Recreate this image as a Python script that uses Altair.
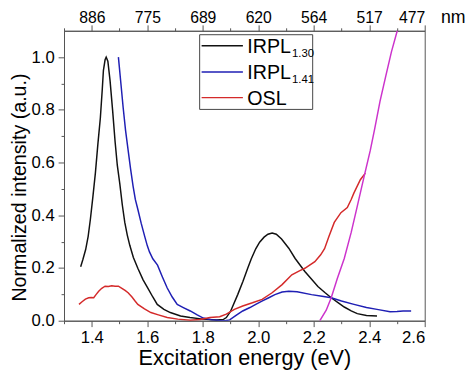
import altair as alt
import pandas as pd

# ---------------- data ----------------
series_names = ["IRPL1.30", "IRPL1.41", "OSL", "source"]
series_colors = ["#111111", "#1f1fb4", "#d42a2a", "#cc33cc"]

e_black = [1.360, 1.368, 1.378, 1.387, 1.395, 1.404, 1.413, 1.422, 1.431, 1.438, 1.442, 1.448,
           1.452, 1.458, 1.466, 1.475, 1.484, 1.492, 1.501, 1.510, 1.519, 1.528, 1.537, 1.550,
           1.566, 1.585, 1.602, 1.620, 1.636, 1.660, 1.683, 1.720, 1.754, 1.800, 1.850, 1.875,
           1.885, 1.900, 1.926, 1.945, 1.962, 1.975, 1.991, 2.005, 2.021, 2.035, 2.050, 2.065,
           2.084, 2.110, 2.133, 2.168, 2.190, 2.215, 2.240, 2.263, 2.290, 2.310, 2.335, 2.357,
           2.390, 2.428]
i_black = [0.205, 0.232, 0.270, 0.320, 0.385, 0.470, 0.560, 0.670, 0.770, 0.880, 0.950, 0.990,
           1.000, 0.985, 0.910, 0.800, 0.680, 0.590, 0.520, 0.440, 0.373, 0.325, 0.286, 0.240,
           0.199, 0.155, 0.124, 0.090, 0.062, 0.043, 0.031, 0.018, 0.012, 0.006, 0.003, 0.005,
           0.012, 0.035, 0.099, 0.150, 0.199, 0.235, 0.273, 0.298, 0.317, 0.328, 0.333, 0.328,
           0.310, 0.275, 0.236, 0.187, 0.160, 0.130, 0.107, 0.087, 0.067, 0.052, 0.037, 0.027,
           0.020, 0.018]

e_blue = [1.496, 1.505, 1.513, 1.522, 1.531, 1.540, 1.549, 1.557, 1.566, 1.578, 1.590, 1.600,
          1.608, 1.620, 1.637, 1.655, 1.672, 1.690, 1.708, 1.730, 1.755, 1.780, 1.802, 1.830,
          1.860, 1.880, 1.897, 1.920, 1.944, 1.970, 1.991, 2.015, 2.038, 2.060, 2.086, 2.110,
          2.140, 2.192, 2.230, 2.263, 2.300, 2.345, 2.390, 2.428, 2.475, 2.500, 2.522, 2.551]
i_blue = [1.000, 0.900, 0.810, 0.720, 0.647, 0.575, 0.510, 0.460, 0.423, 0.370, 0.323, 0.285,
          0.261, 0.235, 0.211, 0.165, 0.124, 0.090, 0.062, 0.050, 0.037, 0.022, 0.010, 0.004,
          0.001, 0.000, 0.003, 0.020, 0.037, 0.050, 0.062, 0.075, 0.087, 0.099, 0.109, 0.112,
          0.110, 0.099, 0.093, 0.087, 0.075, 0.062, 0.050, 0.043, 0.034, 0.035, 0.037, 0.037]

e_red = [1.354, 1.365, 1.377, 1.389, 1.398, 1.407, 1.416, 1.425, 1.436, 1.448, 1.460, 1.472,
         1.484, 1.496, 1.510, 1.520, 1.531, 1.545, 1.556, 1.566, 1.590, 1.613, 1.640, 1.672,
         1.710, 1.755, 1.790, 1.826, 1.861, 1.885, 1.914, 1.944, 1.979, 2.014, 2.050, 2.086,
         2.121, 2.150, 2.168, 2.204, 2.225, 2.239, 2.255, 2.274, 2.298, 2.321, 2.335, 2.345,
         2.368, 2.386]
i_red = [0.062, 0.072, 0.082, 0.087, 0.088, 0.087, 0.100, 0.112, 0.123, 0.131, 0.130, 0.133,
         0.131, 0.131, 0.122, 0.115, 0.106, 0.090, 0.075, 0.062, 0.045, 0.031, 0.022, 0.012,
         0.006, 0.002, 0.005, 0.012, 0.015, 0.025, 0.043, 0.056, 0.068, 0.081, 0.106, 0.137,
         0.174, 0.190, 0.199, 0.224, 0.250, 0.273, 0.320, 0.373, 0.410, 0.429, 0.460, 0.485,
         0.535, 0.560]

e_mag = [2.222, 2.245, 2.263, 2.285, 2.310, 2.335, 2.357, 2.380, 2.404, 2.420, 2.439, 2.460,
         2.480, 2.501, 2.512]
i_mag = [0.000, 0.040, 0.087, 0.160, 0.236, 0.335, 0.435, 0.540, 0.647, 0.730, 0.833, 0.930,
         1.020, 1.100, 1.150]

x_tick_values = [1.3, 1.4, 1.5, 1.6, 1.7, 1.8, 1.9, 2.0, 2.1, 2.2, 2.3, 2.4, 2.5, 2.6]
x_tick_labels = ["", "1.4", "", "1.6", "", "1.8", "", "2.0", "", "2.2", "", "2.4", "", "2.6"]
nm_tick_labels = ["", "886", "", "775", "", "689", "", "620", "", "564", "", "517", "", "477"]
y_tick_values = [0.0, 0.1, 0.2, 0.3, 0.4, 0.5, 0.6, 0.7, 0.8, 0.9, 1.0]
y_tick_labels = ["0.0", "", "0.2", "", "0.4", "", "0.6", "", "0.8", "", "1.0"]

legend_main = ["IRPL", "IRPL", "OSL"]
legend_sub = ["1.30", "1.41", ""]

# ---------------- build table ----------------
rows = []
for name, xs, ys in zip(series_names, [e_black, e_blue, e_red, e_mag],
                        [i_black, i_blue, i_red, i_mag]):
    for x, y in zip(xs, ys):
        rows.append({"series": name, "energy": x, "intensity": y})
df = pd.DataFrame(rows)

FONT = "Liberation Sans"
AX = "#555555"


def arr_expr(labels, offset_expr):
    return "[" + ",".join("'%s'" % s for s in labels) + "][" + offset_expr + "]"


major_tick = {"condition": {"test": "round(datum.value*10)%2==0", "value": 6}, "value": 3}

x_scale = alt.Scale(domain=[1.3, 2.6], nice=False, zero=False)
y_scale = alt.Scale(domain=[0, 1.1], nice=False)

lines = alt.Chart(df).mark_line(strokeWidth=1.5, clip=True).encode(
    x=alt.X("energy:Q", scale=x_scale,
            axis=alt.Axis(orient="bottom", values=x_tick_values,
                          labelExpr=arr_expr(x_tick_labels, "round(datum.value*10)-13"),
                          tickSize=major_tick, labelBaseline="alphabetic", labelPadding=16,
                          labelFontSize=17, title="Excitation energy (eV)", titleFontSize=22,
                          titleFontWeight="normal", titleBaseline="alphabetic",
                          titleY=45, titleX=183.5, titleAlign="center")),
    y=alt.Y("intensity:Q", scale=y_scale,
            axis=alt.Axis(values=y_tick_values,
                          labelExpr=arr_expr(y_tick_labels, "round(datum.value*10)"),
                          tickSize=major_tick, labelBaseline="middle", labelPadding=4,
                          labelFontSize=17, title="Normalized intensity (a.u.)",
                          titleFontSize=20, titleFontWeight="normal", titleAngle=-90,
                          titleBaseline="alphabetic", titleAlign="center",
                          titleX=-39, titleY=159)),
    color=alt.Color("series:N", scale=alt.Scale(domain=series_names, range=series_colors),
                    legend=None),
)

top_axis = alt.Chart(df).mark_point(opacity=0).encode(
    x=alt.X("energy:Q", scale=x_scale,
            axis=alt.Axis(orient="top", values=x_tick_values,
                          labelExpr=arr_expr(nm_tick_labels, "round(datum.value*10)-13"),
                          tickSize=major_tick, labelBaseline="alphabetic", labelPadding=2,
                          labelFontSize=16, title="nm", titleFontSize=18,
                          titleFontWeight="normal", titleBaseline="alphabetic",
                          titleAlign="left", titleX=383, titleY=-8)),
)

# legend box (manual, to allow subscripts)
leg_df = pd.DataFrame({"k": [0]})
box = alt.Chart(leg_df).mark_rect(fill="white", stroke="#444444", strokeWidth=1).encode(
    x=alt.value(138), x2=alt.value(253), y=alt.value(4), y2=alt.value(80))
legend_layers = [box]
line_ys = [15.3, 42, 68]
for i in range(3):
    legend_layers.append(
        alt.Chart(leg_df).mark_rule(strokeWidth=1.5, color=series_colors[i]).encode(
            x=alt.value(140), x2=alt.value(182), y=alt.value(line_ys[i])))
    legend_layers.append(
        alt.Chart(pd.DataFrame({"t": [legend_main[i]]})).mark_text(
            font=FONT, fontSize=20, align="left", baseline="alphabetic", color="black").encode(
            x=alt.value(186.5), y=alt.value(line_ys[i] + 7.3), text="t:N"))
    if legend_sub[i]:
        legend_layers.append(
            alt.Chart(pd.DataFrame({"t": [legend_sub[i]]})).mark_text(
                font=FONT, fontSize=11.5, align="left", baseline="alphabetic",
                color="black").encode(
                x=alt.value(232), y=alt.value(line_ys[i] + 11.5), text="t:N"))

chart = alt.layer(lines, top_axis, *legend_layers).resolve_axis(x="independent").properties(
    width=367, height=295,
    autosize=alt.AutoSizeParams(type="none"),
    padding={"left": 57, "top": 20, "right": 42, "bottom": 49},
).configure_axis(
    labelFont=FONT, titleFont=FONT, labelColor="black", titleColor="black",
    domainColor=AX, tickColor=AX, grid=False, domainWidth=1, tickWidth=1,
).configure_view(stroke=AX, strokeWidth=1)

chart.save("out.html", embed_options={"renderer": "svg", "actions": False})
